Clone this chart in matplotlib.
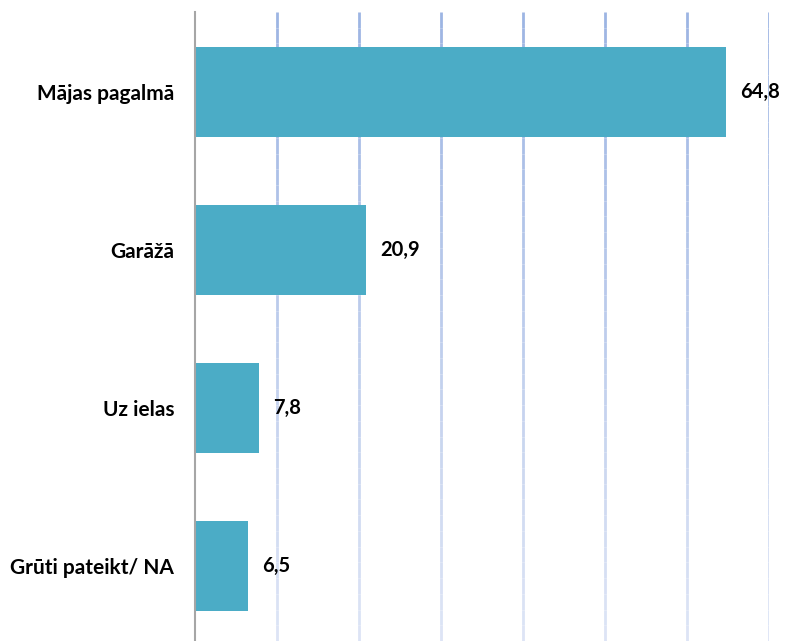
import matplotlib
matplotlib.use("Agg")
import matplotlib.pyplot as plt
import numpy as np
from matplotlib.collections import LineCollection

categories = ["Mājas pagalmā", "Garāžā", "Uz ielas", "Grūti pateikt/ NA"]
values = [64.8, 20.9, 7.8, 6.5]
value_labels = ["64,8", "20,9", "7,8", "6,5"]

plt.rcParams['font.family'] = ['Lato', 'DejaVu Sans']

fig = plt.figure(figsize=(7.85, 6.41), dpi=100)
ax = fig.add_axes([195/785, 0.0, (769-195)/785, 1 - 12/641])

y = np.arange(len(categories))
ax.barh(y, values, height=0.57, color='#4BACC6', zorder=3)
ax.set_xlim(0, 70)
ax.set_ylim(3.475, -0.506)

# gradient gridlines
ylo, yhi = ax.get_ylim()
n = 40
ys = np.linspace(yhi, ylo, n + 1)
top_c = np.array([0x9d, 0xb5, 0xe3]) / 255
bot_c = np.array([0xdd, 0xe4, 0xf5]) / 255
for gx in range(10, 71, 10):
    segs = [[(gx, ys[i]), (gx, ys[i + 1])] for i in range(n)]
    cols = [tuple(top_c + (bot_c - top_c) * (i / (n - 1))) for i in range(n)]
    lc = LineCollection(segs, colors=cols, linewidths=2.0, zorder=1)
    ax.add_collection(lc)

for s in ['top', 'right', 'bottom']:
    ax.spines[s].set_visible(False)
ax.spines['left'].set_color('#a6a6a6')
ax.spines['left'].set_linewidth(1.5)
ax.spines['left'].set_zorder(4)

ax.set_xticks([])
ax.set_yticks(y)
ax.set_yticklabels(categories, fontsize=15, fontweight='bold', color='#000000')
ax.tick_params(axis='y', length=0, pad=15)

for yi, v, lab in zip(y, values, value_labels):
    ax.annotate(lab, (v, yi), xytext=(14, 0), textcoords='offset pixels',
                ha='left', va='center', fontsize=14.5, fontweight='bold', color='#000000')

fig.savefig("out.png", dpi=100)
